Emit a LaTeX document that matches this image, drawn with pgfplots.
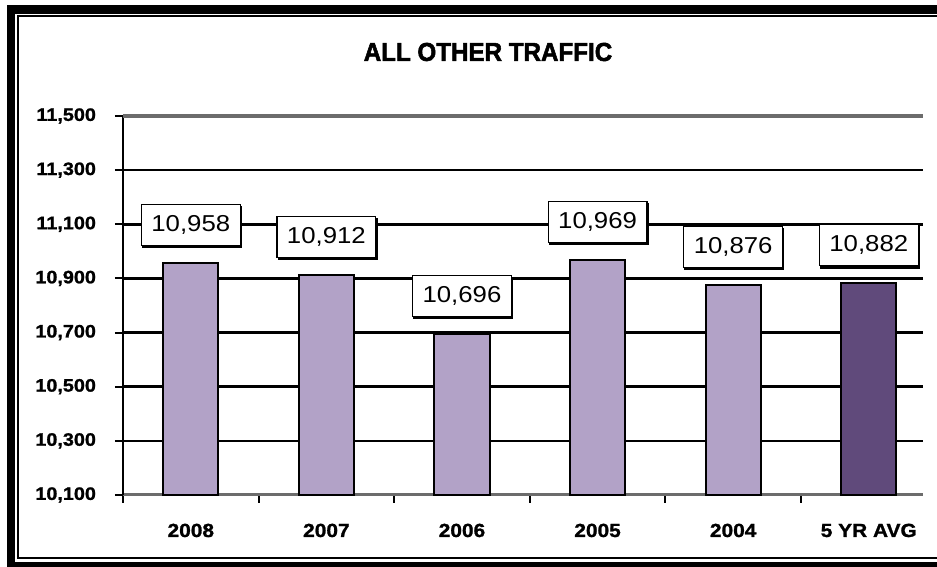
\documentclass[border=0pt]{standalone}
\usepackage{fontspec}
\setmainfont{Liberation Sans}
\newfontfamily\lblfont[FakeStretch=1.12]{Liberation Sans}
\newfontfamily\tkfont[FakeStretch=1.1,FakeBold=1.2]{Liberation Sans}
\newfontfamily\ttlfont[FakeBold=2,FakeStretch=0.93]{Liberation Sans}
\usepackage{pgfplots}
\pgfplotsset{compat=1.18}
\usetikzlibrary{shadows}
\definecolor{lav}{RGB}{178,162,199}
\definecolor{plum}{RGB}{96,74,123}
\begin{document}
\begin{tikzpicture}
\useasboundingbox (0pt,0pt) rectangle (468.5pt,283.5pt);
\fill[black] (3.5pt,-5pt) rectangle (480pt,281pt);
\fill[white] (7.5pt,2.5pt) rectangle (480pt,276.5pt);
\draw[black,line width=1pt] (9pt,4.5pt) rectangle (490pt,275.25pt);
\node[font=\ttlfont\bfseries\fontsize{13}{15}\selectfont] at (244pt,257.5pt) {ALL OTHER TRAFFIC};
\begin{axis}[
  at={(61.5pt,36pt)}, anchor=south west,
  scale only axis, width=400pt, height=189.5pt,
  xmin=-0.5, xmax=5.4, ymin=10100, ymax=11500,
  axis x line*=bottom, axis y line*=left,
  x axis line style={draw=gray!85!black, line width=1.5pt},
  y axis line style={black, line width=1pt},
  scaled y ticks=false,
  /pgf/number format/assume math mode=true,
  /pgf/number format/1000 sep={,},
  /pgf/number format/fixed,
  ytick={10100,10300,...,11500},
  xtick={0,...,5},
  xticklabels={2008,2007,2006,2005,2004,5 YR AVG},
  minor xtick={-0.5,0.5,1.5,2.5,3.5,4.5},
  tick align=outside,
  major tick length=4pt, minor tick length=4pt,
  major x tick style={draw=none},
  minor x tick style={black,line width=1pt},
  major y tick style={black,line width=1pt},
  ymajorgrids, major grid style={black, line width=1.3pt},
  yticklabel style={font=\tkfont\bfseries\fontsize{9}{10}\selectfont, text=black, xshift=-6pt},
  xticklabel style={font=\tkfont\bfseries\fontsize{9.5}{10}\selectfont, text=black, anchor=base, yshift=-17pt},
  ybar, bar width=0.406, bar shift=0pt,
  nodes near coords={\pgfmathprintnumber{\pgfplotspointmeta}},
  nodes near coords style={anchor=center, yshift=19pt, draw=black, fill=white, line width=0.6pt,
    font=\lblfont\fontsize{11.5}{12}\selectfont, inner xsep=5pt, minimum height=20.5pt,
    drop shadow={shadow xshift=0.6pt, shadow yshift=-1.1pt, fill=black, opacity=1}},
  clip=false,
]
\addplot[draw=black, line width=1pt, fill=lav] coordinates {(0,10958) (1,10912) (2,10696) (3,10969) (4,10876)};
\addplot[draw=black, line width=1pt, fill=plum] coordinates {(5,10882)};
\draw[gray!85!black, line width=2pt] (rel axis cs:0,1) -- (rel axis cs:1,1);
\end{axis}
\end{tikzpicture}
\end{document}
